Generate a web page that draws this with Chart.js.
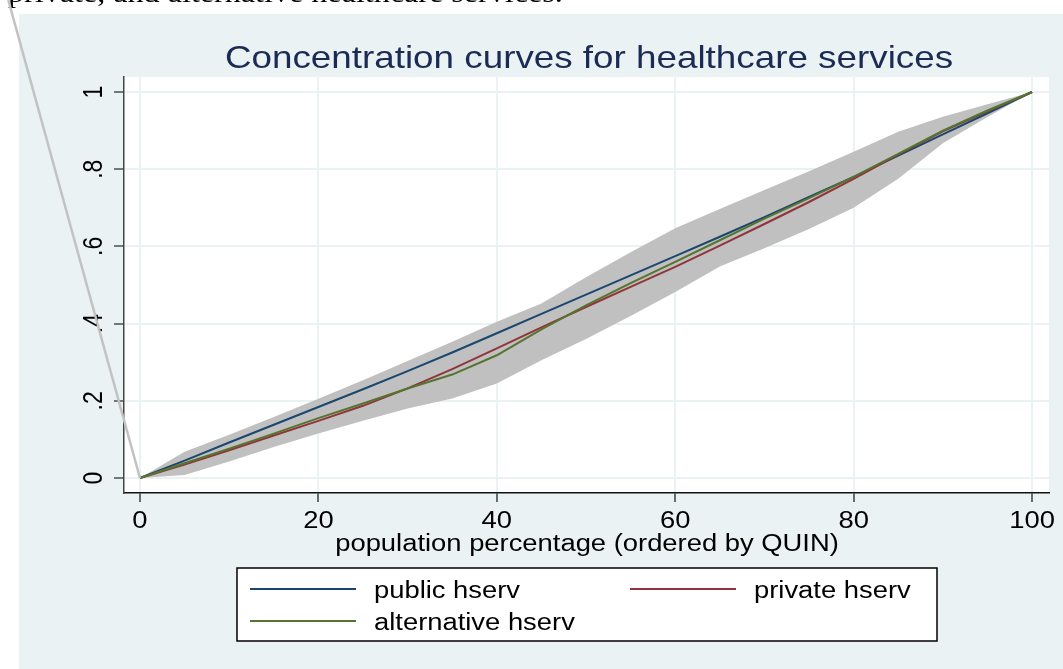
<!DOCTYPE html>
<html>
<head>
<meta charset="utf-8">
<script src="https://cdn.jsdelivr.net/npm/chart.js@4.4.1/dist/chart.umd.min.js"></script>
<style>
  html, body { margin: 0; padding: 0; background: #ffffff; }
  #wrap { position: relative; width: 1063px; height: 669px; overflow: hidden; }
  canvas { display: block; }
</style>
</head>
<body>
<div id="wrap"><canvas id="c" width="1063" height="669"></canvas></div>
<script>
// ---------------- data ----------------
const popPct      = [0, 5, 10, 15, 20, 25, 30, 35, 40, 45, 50, 55, 60, 65, 70, 75, 80, 85, 90, 95, 100];
const publicHserv = [0, 0.045, 0.092, 0.138, 0.184, 0.230, 0.277, 0.325, 0.375, 0.425, 0.475, 0.525, 0.575, 0.625, 0.676, 0.728, 0.780, 0.835, 0.890, 0.945, 1];
const privateHserv= [0, 0.035, 0.072, 0.110, 0.148, 0.187, 0.232, 0.282, 0.336, 0.390, 0.443, 0.495, 0.547, 0.602, 0.658, 0.715, 0.775, 0.838, 0.898, 0.950, 1];
const altHserv    = [0, 0.038, 0.076, 0.115, 0.155, 0.193, 0.232, 0.268, 0.318, 0.385, 0.447, 0.505, 0.560, 0.616, 0.672, 0.725, 0.780, 0.840, 0.900, 0.952, 1];
const bandUpper   = [0, 0.068, 0.112, 0.158, 0.205, 0.253, 0.303, 0.353, 0.405, 0.452, 0.520, 0.585, 0.647, 0.697, 0.746, 0.795, 0.845, 0.897, 0.936, 0.968, 1];
const bandLower   = [0, 0.008, 0.043, 0.080, 0.115, 0.148, 0.180, 0.206, 0.245, 0.305, 0.360, 0.420, 0.482, 0.548, 0.595, 0.645, 0.700, 0.775, 0.867, 0.935, 1];

const xTickValues = [0, 20, 40, 60, 80, 100];
const xTickLabels = ['0', '20', '40', '60', '80', '100'];
const yTickValues = [0, 0.2, 0.4, 0.6, 0.8, 1];
const yTickLabels = ['0', '.2', '.4', '.6', '.8', '1'];

const chartTitle  = 'Concentration curves for healthcare services';
const xAxisTitle  = 'population percentage (ordered by QUIN)';
const seriesNames = ['public hserv', 'private hserv', 'alternative hserv'];
const docText     = 'private, and alternative healthcare services.';

// ---------------- helpers ----------------
const pts = arr => popPct.map((x, i) => ({ x: x, y: arr[i] }));
const SX = 1.19; // horizontal glyph stretch of the reference image
const FONT = '"Liberation Sans", Arial, sans-serif';

function sText(ctx, text, x, y, o) {
  ctx.save();
  ctx.font = o.font;
  ctx.fillStyle = o.color || '#000';
  ctx.textAlign = o.align || 'center';
  ctx.textBaseline = o.baseline || 'alphabetic';
  ctx.translate(x, y);
  ctx.scale(o.sx || SX, 1);
  if (o.rot) ctx.rotate(o.rot);
  ctx.fillText(text, 0, 0);
  ctx.restore();
}

const COLORS = { pub: '#1a476f', pri: '#90353b', alt: '#55752f', band: '#c0c0c0',
                 panel: '#eaf2f3', grid: '#eaf2f3', title: '#1c2b55' };

const bgPlugin = {
  id: 'bg',
  beforeDraw(chart) {
    const ctx = chart.ctx, a = chart.chartArea;
    ctx.save();
    ctx.fillStyle = '#ffffff';
    ctx.fillRect(0, 0, chart.width, chart.height);
    ctx.fillStyle = COLORS.panel;
    ctx.fillRect(19, 14, chart.width - 19, chart.height - 14);
    ctx.fillStyle = '#ffffff';
    ctx.fillRect(a.left, a.top, a.right - a.left, a.bottom - a.top);
    ctx.restore();
  }
};

const textPlugin = {
  id: 'texts',
  afterDraw(chart) {
    const ctx = chart.ctx;
    const xs = chart.scales.x, ys = chart.scales.y;
    // document text cut off at the top
    sText(ctx, docText, 8, 2, { font: '27px "Liberation Serif", "Times New Roman", serif', align: 'left', color: '#000' });
    // title
    sText(ctx, chartTitle, 589, 68, { font: '32px ' + FONT, color: COLORS.title, sx: 1.15 });
    // x tick labels
    xTickValues.forEach((v, i) => {
      sText(ctx, xTickLabels[i], xs.getPixelForValue(v), 528, { font: '23px ' + FONT });
    });
    // y tick labels (rotated)
    yTickValues.forEach((v, i) => {
      sText(ctx, yTickLabels[i], 102, ys.getPixelForValue(v), { font: '23px ' + FONT, rot: -Math.PI / 2 });
    });
    // x axis title
    sText(ctx, xAxisTitle, 587, 551, { font: '23px ' + FONT });

    // legend
    ctx.save();
    ctx.fillStyle = '#ffffff';
    ctx.fillRect(237, 568, 700, 73);
    ctx.strokeStyle = '#000';
    ctx.lineWidth = 1.5;
    ctx.strokeRect(237, 568, 700, 73);
    ctx.restore();
    const ds = chart.data.datasets;
    const items = [
      { d: ds[2], lx: 250, ty: 598, ly: 589 },
      { d: ds[1], lx: 630, ty: 598, ly: 589 },
      { d: ds[0], lx: 250, ty: 630, ly: 621 }
    ];
    items.forEach(it => {
      ctx.save();
      ctx.strokeStyle = it.d.borderColor;
      ctx.lineWidth = 2;
      ctx.beginPath();
      ctx.moveTo(it.lx, it.ly);
      ctx.lineTo(it.lx + 106, it.ly);
      ctx.stroke();
      ctx.restore();
      sText(ctx, it.d.label, it.lx + 124, it.ty, { font: '23px ' + FONT, align: 'left' });
    });

    // diagonal callout line from the page ending at the origin
    const ox = xs.getPixelForValue(0), oy = ys.getPixelForValue(0);
    ctx.save();
    ctx.strokeStyle = '#c2c2c2';
    ctx.lineWidth = 2.5;
    ctx.beginPath();
    ctx.moveTo(ox - 0.2755 * oy, 0);
    ctx.lineTo(ox, oy);
    ctx.stroke();
    ctx.restore();
  }
};

const lineDs = (label, arr, color) => ({
  label: label, data: pts(arr), borderColor: color, backgroundColor: color,
  borderWidth: 2, pointRadius: 0, tension: 0, fill: false
});

new Chart(document.getElementById('c'), {
  type: 'line',
  data: {
    datasets: [
      lineDs(seriesNames[2], altHserv, COLORS.alt),
      lineDs(seriesNames[1], privateHserv, COLORS.pri),
      lineDs(seriesNames[0], publicHserv, COLORS.pub),
      { label: 'upper', data: pts(bandUpper), borderWidth: 0, borderColor: 'rgba(0,0,0,0)',
        backgroundColor: COLORS.band, pointRadius: 0, tension: 0, fill: 4 },
      { label: 'lower', data: pts(bandLower), borderWidth: 0, borderColor: 'rgba(0,0,0,0)',
        pointRadius: 0, tension: 0, fill: false }
    ]
  },
  options: {
    responsive: false,
    animation: false,
    devicePixelRatio: 1,
    layout: { padding: { left: 0, top: 77, right: 14, bottom: 0 } },
    plugins: { legend: { display: false }, title: { display: false }, tooltip: { enabled: false } },
    scales: {
      x: {
        type: 'linear', min: -1.79, max: 101.9,
        afterBuildTicks: s => { s.ticks = xTickValues.map(v => ({ value: v })); },
        afterFit: s => { s.height = 176; },
        ticks: { display: false },
        grid: { color: COLORS.grid, lineWidth: 2, drawTicks: true, tickLength: 9, tickColor: '#222', tickWidth: 1.3 },
        border: { display: true, color: '#111', width: 1.5 }
      },
      y: {
        type: 'linear', min: -0.0389, max: 1.0389,
        afterBuildTicks: s => { s.ticks = yTickValues.map(v => ({ value: v })); },
        afterFit: s => { s.width = 124; },
        ticks: { display: false },
        grid: { color: COLORS.grid, lineWidth: 2, drawTicks: true, tickLength: 10, tickColor: '#333', tickWidth: 1.3 },
        border: { display: true, color: '#444', width: 1.5 }
      }
    }
  },
  plugins: [bgPlugin, textPlugin]
});
</script>
</body>
</html>
